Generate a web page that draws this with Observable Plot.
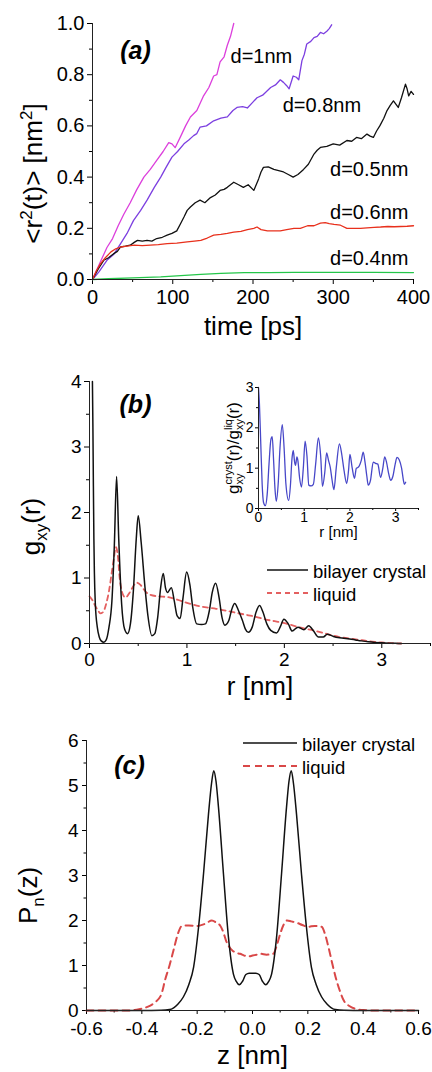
<!DOCTYPE html>
<html><head><meta charset="utf-8">
<script src="https://cdn.jsdelivr.net/npm/d3@7"></script>
<script src="https://cdn.jsdelivr.net/npm/@observablehq/plot@0.6"></script>
<style>
body{margin:0;background:#fff;}
#root{position:relative;width:432px;height:1072px;overflow:hidden;background:#fff;font-family:"Liberation Sans",Arial,sans-serif;}
#root svg{position:absolute;}
</style></head><body><div id="root"></div>
<script>
// ---------- Panel (a) data: mean square displacement ----------
const aSeries = ["d=1nm","d=0.8nm","d=0.5nm","d=0.6nm","d=0.4nm"];
const aColors = ["#dc3fdc","#7c3fe0","#111111","#e8301c","#25c64a"];
const d10_t = [0,5,10,18,25,32,39,47,55,64,72,80,88,95,99,103,110,116,122,130,138,145,151,155,159,164,168,172,176];
const d10_v = [0,0.035,0.07,0.125,0.16,0.21,0.255,0.3,0.35,0.4,0.43,0.465,0.5,0.535,0.53,0.515,0.56,0.6,0.635,0.66,0.715,0.75,0.795,0.8,0.85,0.87,0.915,0.95,1.0];
const d08_t = [0,8,18,27,35,43,51,60,68,77,85,92,99,106,114,120,126,130,134,142,151,160,168,175,180,187,193,199,205,212,222,228,234,238,242,245,250,254,257,261,264,267,272,276,280,284,288,292,295,298];
const d08_v = [0,0.03,0.075,0.1,0.14,0.18,0.23,0.27,0.31,0.36,0.4,0.44,0.478,0.5,0.53,0.545,0.562,0.57,0.595,0.6,0.62,0.63,0.635,0.66,0.672,0.675,0.67,0.69,0.71,0.72,0.75,0.76,0.78,0.77,0.757,0.745,0.795,0.79,0.78,0.855,0.88,0.92,0.93,0.945,0.95,0.965,0.96,0.97,0.98,0.995];
const d05_t = [0,7,14,20,26,31,35,41,47,52,56,62,68,74,80,87,93,99,105,110,114,118,122,128,134,140,147,153,159,164,168,172,176,182,188,194,201,204,207,210,213,219,226,232,238,244,250,256,263,269,276,280,284,292,300,308,317,323,329,335,342,346,350,354,358,363,367,371,375,378,381,385,390,392,394,397,400];
const d05_v = [0,0.04,0.075,0.085,0.1,0.11,0.127,0.13,0.134,0.145,0.153,0.15,0.153,0.15,0.16,0.165,0.173,0.18,0.19,0.22,0.244,0.27,0.283,0.3,0.31,0.3,0.32,0.33,0.348,0.352,0.36,0.37,0.38,0.37,0.36,0.37,0.348,0.37,0.393,0.42,0.438,0.44,0.43,0.425,0.42,0.41,0.4,0.41,0.43,0.45,0.49,0.505,0.516,0.52,0.53,0.525,0.543,0.54,0.555,0.55,0.568,0.56,0.555,0.58,0.6,0.63,0.66,0.68,0.698,0.685,0.672,0.71,0.763,0.745,0.717,0.735,0.723];
const d06_t = [0,5,10,16,23,29,35,43,52,62,72,82,93,105,118,127,135,143,151,160,168,176,185,193,201,205,210,218,226,234,242,251,259,268,276,284,290,295,301,309,317,326,334,342,351,359,368,376,384,392,400];
const d06_v = [0,0.035,0.062,0.085,0.108,0.12,0.127,0.13,0.134,0.132,0.134,0.136,0.14,0.142,0.147,0.15,0.153,0.162,0.173,0.176,0.18,0.185,0.188,0.195,0.2,0.205,0.195,0.19,0.19,0.19,0.195,0.2,0.2,0.21,0.21,0.22,0.222,0.218,0.215,0.212,0.2,0.2,0.2,0.202,0.204,0.205,0.207,0.206,0.207,0.208,0.21];
const d04_t = [0,20,50,85,110,135,160,189,220,251,300,350,400];
const d04_v = [0,0.003,0.006,0.01,0.015,0.02,0.024,0.027,0.027,0.028,0.028,0.028,0.027];
const aLabelT = [172,237,296,296,296];
const aLabelV = [0.87,0.68,0.43,0.262,0.083];
const aXTicks = [0,100,200,300,400], aXMinor = [50,150,250,350];
const aYTicks = [0,0.2,0.4,0.6,0.8,1.0], aYMinor = [0.1,0.3,0.5,0.7,0.9];

// ---------- Panel (b) data: g_xy(r) ----------
const bCrystR = [0.03,0.035,0.04,0.045,0.05,0.06,0.08,0.1,0.12,0.147,0.17,0.2,0.23,0.255,0.278,0.3,0.33,0.36,0.39,0.42,0.45,0.48,0.5,0.53,0.57,0.6,0.64,0.67,0.7,0.73,0.757,0.78,0.8,0.84,0.87,0.9,0.93,0.96,0.997,1.03,1.06,1.1,1.15,1.19,1.23,1.26,1.295,1.33,1.36,1.39,1.43,1.46,1.49,1.53,1.57,1.6,1.63,1.67,1.71,1.745,1.78,1.82,1.86,1.92,1.96,1.995,2.04,2.08,2.14,2.2,2.25,2.3,2.35,2.4,2.44,2.5,2.55,2.61,2.67,2.73,2.79,2.86,2.93,3.0,3.07,3.14,3.2];
const bCrystG = [4.0,3.3,2.4,1.6,1.1,0.6,0.25,0.1,0.04,0.02,0.05,0.25,0.65,1.5,2.55,1.6,0.6,0.22,0.15,0.3,0.8,1.6,1.95,1.55,0.85,0.42,0.12,0.15,0.4,0.85,1.07,0.85,0.78,0.85,0.65,0.42,0.38,0.7,1.09,0.9,0.55,0.3,0.29,0.3,0.5,0.78,0.92,0.7,0.4,0.28,0.35,0.52,0.61,0.5,0.35,0.22,0.17,0.25,0.48,0.58,0.48,0.3,0.2,0.16,0.26,0.37,0.3,0.19,0.25,0.21,0.27,0.19,0.1,0.1,0.14,0.11,0.09,0.08,0.07,0.055,0.04,0.025,0.015,0.01,0.005,0.002,0];
const bLiqR = [0,0.03,0.06,0.09,0.11,0.14,0.17,0.2,0.23,0.25,0.27,0.29,0.31,0.34,0.37,0.4,0.44,0.48,0.52,0.56,0.6,0.7,0.8,0.9,1.0,1.1,1.2,1.3,1.4,1.5,1.6,1.7,1.8,1.9,2.0,2.1,2.2,2.3,2.4,2.5,2.6,2.7,2.8,2.9,3.0,3.1,3.2];
const bLiqG = [0.72,0.66,0.57,0.5,0.46,0.48,0.6,0.8,1.1,1.3,1.47,1.35,1.0,0.76,0.7,0.75,0.85,0.93,0.9,0.82,0.76,0.72,0.71,0.67,0.62,0.58,0.55,0.53,0.5,0.47,0.44,0.41,0.37,0.34,0.31,0.27,0.23,0.2,0.16,0.12,0.09,0.07,0.05,0.03,0.015,0.005,0];
const bXTicks = [0,1,2,3], bXMinor = [0.5,1.5,2.5,3.5];
const bYTicks = [0,1,2,3,4], bYMinor = [0.5,1.5,2.5,3.5];
// inset: ratio crystal / liquid
const insR = [0,0.02,0.05,0.08,0.11,0.15,0.19,0.23,0.27,0.3,0.33,0.36,0.39,0.43,0.47,0.52,0.56,0.6,0.66,0.7,0.73,0.76,0.79,0.81,0.84,0.86,0.9,0.94,0.98,1.02,1.06,1.1,1.15,1.2,1.25,1.31,1.36,1.4,1.45,1.49,1.53,1.57,1.61,1.65,1.7,1.77,1.82,1.87,1.93,1.97,2.0,2.05,2.1,2.14,2.18,2.22,2.25,2.29,2.33,2.37,2.4,2.45,2.51,2.56,2.61,2.67,2.72,2.76,2.8,2.85,2.89,2.94,2.99,3.03,3.08,3.13,3.17,3.19,3.22];
const insV = [3.0,2.6,1.6,0.6,0.15,0.07,0.35,1.1,1.7,1.78,1.2,0.5,0.18,0.6,1.5,2.08,1.5,0.6,0.2,0.6,1.2,1.44,1.15,1.07,1.28,1.2,0.75,0.53,1.0,1.67,1.3,0.58,0.56,0.6,1.1,1.75,1.3,0.55,0.9,1.38,1.2,1.02,0.7,0.47,1.0,1.6,1.35,0.95,0.62,0.95,1.34,1.0,0.75,1.0,1.02,1.1,1.2,1.4,1.15,0.8,0.58,0.7,1.15,1.12,1.1,0.77,1.0,1.28,1.15,0.85,0.7,0.8,1.1,1.27,1.2,1.0,0.7,0.6,0.65];
const insXTicks = [0,1,2,3], insXMinor = [0.5,1.5,2.5,3.5];
const insYTicks = [0,1,2,3], insYMinor = [0.5,1.5,2.5];

// ---------- Panel (c) data: P_n(z) ----------
const cCrystZ = [-0.6,-0.4,-0.33,-0.3,-0.285,-0.27,-0.25,-0.23,-0.213,-0.195,-0.177,-0.159,-0.148,-0.14,-0.132,-0.123,-0.105,-0.087,-0.069,-0.058,-0.048,-0.036,-0.024,-0.012,0,0.012,0.024,0.036,0.048,0.058,0.069,0.087,0.105,0.123,0.132,0.14,0.148,0.159,0.177,0.195,0.213,0.23,0.25,0.27,0.285,0.3,0.33,0.4,0.6];
const cCrystP = [0,0,0.005,0.02,0.06,0.14,0.3,0.58,0.96,1.85,3.04,4.37,5.05,5.33,5.1,4.52,3.04,1.63,0.81,0.64,0.57,0.65,0.8,0.83,0.83,0.83,0.8,0.65,0.57,0.64,0.81,1.63,3.04,4.52,5.1,5.33,5.05,4.37,3.04,1.85,0.96,0.58,0.3,0.14,0.06,0.02,0.005,0,0];
const cLiqZ = [-0.6,-0.45,-0.41,-0.38,-0.355,-0.33,-0.315,-0.3,-0.285,-0.27,-0.255,-0.23,-0.2,-0.17,-0.147,-0.13,-0.117,-0.106,-0.096,-0.085,-0.072,-0.058,-0.045,-0.03,-0.015,0,0.015,0.03,0.05,0.075,0.088,0.1,0.112,0.125,0.14,0.16,0.18,0.2,0.225,0.25,0.262,0.275,0.288,0.3,0.315,0.33,0.35,0.37,0.4,0.45,0.6];
const cLiqP = [0,0,0.03,0.08,0.17,0.35,0.7,1.0,1.35,1.7,1.88,1.89,1.88,1.93,2.0,1.95,1.89,1.75,1.56,1.42,1.33,1.28,1.26,1.22,1.2,1.22,1.24,1.26,1.24,1.26,1.45,1.7,1.9,2.0,1.98,1.95,1.9,1.86,1.88,1.86,1.7,1.4,1.05,0.75,0.45,0.22,0.1,0.04,0.01,0,0];
const cXTicks = [-0.6,-0.4,-0.2,0,0.2,0.4,0.6], cXMinor = [-0.5,-0.3,-0.1,0.1,0.3,0.5];
const cYTicks = [0,1,2,3,4,5,6], cYMinor = [0.5,1.5,2.5,3.5,4.5,5.5];

// ---------- helpers ----------
const FONT = '"Liberation Sans", Arial, sans-serif';
const root = document.getElementById("root");
const zip = (xs, ys, extra = {}) => xs.map((x, i) => ({x, y: ys[i], ...extra}));
function place(svg, left, top, tickFs) {
  svg.style.left = left + "px"; svg.style.top = top + "px";
  root.appendChild(svg);
  svg.querySelectorAll('g[aria-label$="tick label"]').forEach(g => {
    g.setAttribute("font-size", tickFs);
    g.style.fontSize = tickFs + "px";
    g.querySelectorAll("text").forEach(t => { t.style.fontSize = tickFs + "px"; });
  });
  return svg;
}
const NS = "http://www.w3.org/2000/svg";
// replace plain text content by tspans (sub/superscripts)
function rich(svg, plain, parts) {
  svg.querySelectorAll("text").forEach(t => {
    if (t.textContent !== plain) return;
    t.textContent = "";
    let shift = 0, lastW = 0;
    parts.forEach(p => {
      const ts = document.createElementNS(NS, "tspan");
      ts.textContent = p.s;
      const target = p.dy || 0;
      ts.setAttribute("dy", target - shift);
      shift = target;
      if (p.size) ts.setAttribute("font-size", p.size);
      if (p.back) ts.setAttribute("dx", -lastW);
      t.appendChild(ts);
      lastW = ts.getComputedTextLength();
    });
  });
}
function axes(xT, xM, yT, yM, fmtX, fmtY, o) {
  return [
    Plot.axisX(xT, {tickSize: o.ts, tickPadding: o.xp, tickFormat: fmtX, label: null}),
    Plot.axisX(xM, {tickSize: o.ms, tickFormat: () => "", label: null}),
    Plot.axisY(yT, {tickSize: o.ts, tickPadding: o.yp, tickFormat: fmtY, label: null}),
    Plot.axisY(yM, {tickSize: o.ms, tickFormat: () => "", label: null})
  ];
}
function legend(left, top, len, items) {
  const svg = d3.create("svg").attr("width", 200).attr("height", 60)
    .style("left", left + "px").style("top", top + "px");
  items.forEach((it, i) => {
    const y = 10 + i * 23;
    svg.append("line").attr("x1", 0).attr("x2", len).attr("y1", y).attr("y2", y)
      .attr("stroke", it.color).attr("stroke-width", it.w).attr("stroke-dasharray", it.dash || null);
    svg.append("text").attr("x", len + 5).attr("y", y + 2).attr("dy", "0.35em")
      .attr("font-family", FONT).attr("font-size", 18.5).attr("fill", "#000").text(it.label);
  });
  root.appendChild(svg.node());
}
const f1 = d => d.toFixed(1);
const f0 = d => String(d);

// ---------- Panel (a) ----------
const msd = [
  ...zip(d10_t, d10_v, {s: aSeries[0]}), ...zip(d08_t, d08_v, {s: aSeries[1]}),
  ...zip(d05_t, d05_v, {s: aSeries[2]}), ...zip(d06_t, d06_v, {s: aSeries[3]}),
  ...zip(d04_t, d04_v, {s: aSeries[4]})
];
const aLabels = aSeries.map((s, i) => ({s, x: aLabelT[i], y: aLabelV[i]}));
const plotA = Plot.plot({
  width: 432, height: 340, marginLeft: 92, marginRight: 19, marginTop: 23, marginBottom: 61,
  style: {fontFamily: FONT, fontSize: "20px", color: "#000", background: "transparent", overflow: "visible"},
  x: {domain: [0, 400]}, y: {domain: [0, 1]},
  color: {domain: aSeries, range: aColors},
  marks: [
    ...axes(aXTicks, aXMinor, aYTicks, aYMinor, f0, f1, {ts: 5, ms: 3, xp: 5, yp: 3}),
    Plot.line(msd, {x: "x", y: "y", z: "s", stroke: "s", strokeWidth: 1.3}),
    Plot.ruleX([0], {stroke: "#222"}), Plot.ruleY([0], {stroke: "#222"}),
    Plot.text(aLabels, {x: "x", y: "y", text: "s", textAnchor: "start", fontSize: 20}),
    Plot.text(["(a)"], {frameAnchor: "top-left", textAnchor: "middle", lineAnchor: "middle", dx: 43, dy: 27, fontSize: 25, fontWeight: "bold", fontStyle: "italic"}),
    Plot.text(["time [ps]"], {frameAnchor: "bottom", textAnchor: "middle", lineAnchor: "middle", dy: 47, fontSize: 26}),
    Plot.text(["<r2(t)> [nm2]"], {frameAnchor: "left", textAnchor: "middle", lineAnchor: "middle", rotate: -90, dx: -59, dy: 22, fontSize: 26})
  ]
});
place(plotA, 0, 0, 20);
rich(plotA, "<r2(t)> [nm2]", [{s: "<r"}, {s: "2", dy: -10, size: 17}, {s: "(t)> [nm"}, {s: "2", dy: -10, size: 17}, {s: "]"}]);

// ---------- Panel (b) ----------
const plotB = Plot.plot({
  width: 432, height: 360, marginLeft: 89, marginRight: 2, marginTop: 41, marginBottom: 57,
  style: {fontFamily: FONT, fontSize: "19px", color: "#000", background: "transparent", overflow: "visible"},
  x: {domain: [0, 3.5]}, y: {domain: [0, 4]},
  marks: [
    ...axes(bXTicks, bXMinor, bYTicks, bYMinor, f0, f0, {ts: 5, ms: 3, xp: 4, yp: 3}),
    Plot.line(zip(bLiqR, bLiqG), {x: "x", y: "y", stroke: "#e46060", strokeWidth: 1.8, strokeDasharray: "5,4", curve: "monotone-x"}),
    Plot.line(zip(bCrystR, bCrystG), {x: "x", y: "y", stroke: "#111", strokeWidth: 1.5, curve: "monotone-x"}),
    Plot.ruleX([0], {stroke: "#222"}), Plot.ruleY([0], {stroke: "#222"}),
    Plot.text(["(b)"], {frameAnchor: "top-left", textAnchor: "middle", lineAnchor: "middle", dx: 46, dy: 23, fontSize: 25, fontWeight: "bold", fontStyle: "italic"}),
    Plot.text(["r [nm]"], {frameAnchor: "bottom", textAnchor: "middle", lineAnchor: "middle", dy: 43, fontSize: 26}),
    Plot.text(["gxy(r)"], {frameAnchor: "left", textAnchor: "middle", lineAnchor: "middle", rotate: -90, dx: -58, dy: 14, fontSize: 26})
  ]
});
place(plotB, 0, 340, 19);
rich(plotB, "gxy(r)", [{s: "g"}, {s: "xy", dy: 7, size: 17}, {s: "(r)"}]);

// inset
const plotI = Plot.plot({
  width: 232, height: 175, marginLeft: 58, marginRight: 14, marginTop: 17, marginBottom: 37,
  style: {fontFamily: FONT, fontSize: "14px", color: "#000", background: "transparent", overflow: "visible"},
  x: {domain: [0, 3.5]}, y: {domain: [0, 3]},
  marks: [
    ...axes(insXTicks, insXMinor, insYTicks, insYMinor, f0, f0, {ts: 3, ms: 2, xp: 1, yp: 2}),
    Plot.line(zip(insR, insV), {x: "x", y: "y", stroke: "#4747c8", strokeWidth: 1.3, curve: "monotone-x"}),
    Plot.ruleX([0], {stroke: "#222"}), Plot.ruleY([0], {stroke: "#222"}),
    Plot.text(["r [nm]"], {frameAnchor: "bottom", textAnchor: "middle", lineAnchor: "middle", dy: 24, fontSize: 15}),
    Plot.text(["gxycryst(r)/gxyliq(r)"], {frameAnchor: "left", textAnchor: "middle", lineAnchor: "middle", rotate: -90, dx: -25, dy: 0, fontSize: 17})
  ]
});
place(plotI, 200, 370, 14);
rich(plotI, "gxycryst(r)/gxyliq(r)", [
  {s: "g"}, {s: "xy", dy: 4, size: 11}, {s: "cryst", dy: -7, size: 11, back: true},
  {s: "(r)/g"}, {s: "xy", dy: 4, size: 11}, {s: "liq", dy: -7, size: 11, back: true}, {s: "(r)"}
]);

legend(267, 560, 41, [
  {label: "bilayer crystal", color: "#111", w: 1.6},
  {label: "liquid", color: "#e46060", w: 1.8, dash: "5,4"}
]);

// ---------- Panel (c) ----------
const plotC = Plot.plot({
  width: 432, height: 372, marginLeft: 86, marginRight: 14, marginTop: 40, marginBottom: 62,
  style: {fontFamily: FONT, fontSize: "19px", color: "#000", background: "transparent", overflow: "visible"},
  x: {domain: [-0.6, 0.6]}, y: {domain: [0, 6]},
  marks: [
    ...axes(cXTicks, cXMinor, cYTicks, cYMinor, f1, f0, {ts: 4, ms: 2.5, xp: 7, yp: 4}),
    Plot.line(zip(cLiqZ, cLiqP), {x: "x", y: "y", stroke: "#d94848", strokeWidth: 2, strokeDasharray: "7,5", curve: "monotone-x"}),
    Plot.line(zip(cCrystZ, cCrystP), {x: "x", y: "y", stroke: "#111", strokeWidth: 1.5, curve: "monotone-x"}),
    Plot.ruleX([-0.6], {stroke: "#222"}), Plot.ruleY([0], {stroke: "#222"}),
    Plot.text(["(c)"], {frameAnchor: "top-left", textAnchor: "middle", lineAnchor: "middle", dx: 43, dy: 25, fontSize: 25, fontWeight: "bold", fontStyle: "italic"}),
    Plot.text(["z [nm]"], {frameAnchor: "bottom", textAnchor: "middle", lineAnchor: "middle", dy: 45, fontSize: 26}),
    Plot.text(["Pn(z)"], {frameAnchor: "left", textAnchor: "middle", lineAnchor: "middle", rotate: -90, dx: -58, dy: 20, fontSize: 26})
  ]
});
place(plotC, 0, 700, 19);
rich(plotC, "Pn(z)", [{s: "P"}, {s: "n", dy: 7, size: 17}, {s: "(z)"}]);

legend(243, 733, 54, [
  {label: "bilayer crystal", color: "#111", w: 1.6},
  {label: "liquid", color: "#d94848", w: 2, dash: "7,5"}
]);
</script></body></html>
